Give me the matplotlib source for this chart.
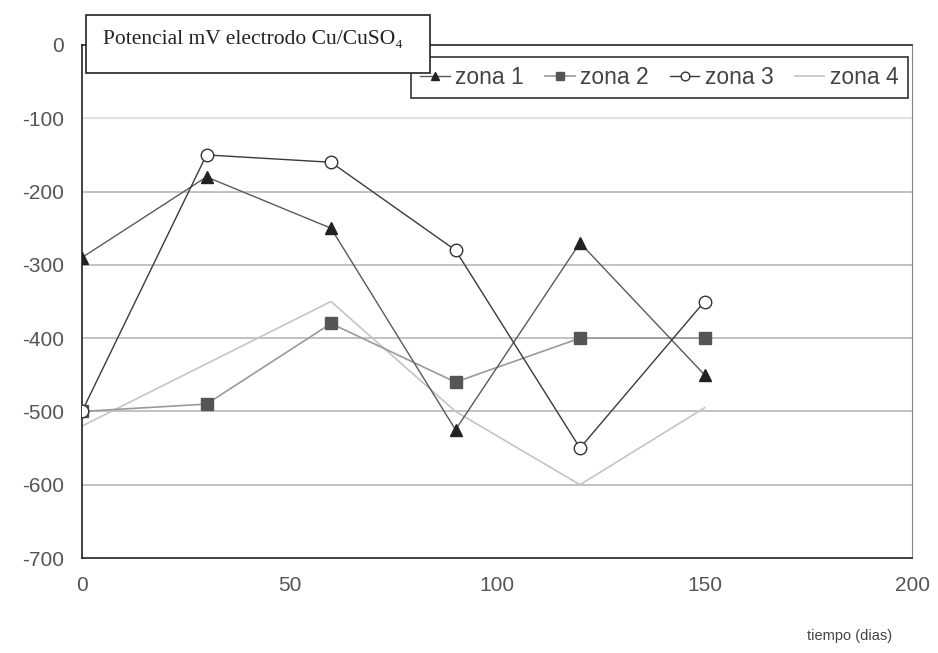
import matplotlib
matplotlib.use("Agg")
import matplotlib.pyplot as plt
from matplotlib.patches import Rectangle

dias = [0, 30, 60, 90, 120, 150]
zona1 = [-290, -180, -250, -525, -270, -450]
zona2 = [-500, -490, -380, -460, -400, -400]
zona3 = [-500, -150, -160, -280, -550, -350]
zona4 = [-520, -435, -350, -500, -600, -495]
xticks = [0, 50, 100, 150, 200]
yticks = [0, -100, -200, -300, -400, -500, -600, -700]

plt.rcParams['font.family'] = ['Liberation Sans', 'DejaVu Sans']
plt.rcParams['axes.unicode_minus'] = False

fig = plt.figure(figsize=(9.38, 6.53), dpi=100)
W, H = 938, 653
ax = fig.add_axes([82 / W, 1 - 558 / H, (912 - 82) / W, (558 - 45) / H])

for v in yticks[1:-1]:
    ax.axhline(v, color='#bdbdbd' if v != -100 else '#dedede', lw=1.3, zorder=1)

ax.plot(dias, zona4, color='#c4c4c4', lw=1.2, label='zona 4', zorder=2)
ax.plot(dias, zona2, color='#9a9a9a', lw=1.2, marker='s', ms=8,
        mfc='#555555', mec='#555555', label='zona 2', zorder=3)
ax.plot(dias, zona1, color='#5a5a5a', lw=1.0, marker='^', ms=8,
        mfc='#222222', mec='#222222', label='zona 1', zorder=4)
ax.plot(dias, zona3, color='#3a3a3a', lw=1.0, marker='o', ms=9,
        mfc='white', mec='#333333', mew=1.0, label='zona 3', zorder=5)

ax.set_xlim(0, 200)
ax.set_ylim(-700, 0)
ax.set_xticks(xticks)
ax.set_yticks(yticks)
ax.tick_params(length=0, labelsize=15, labelcolor='#555555')
ax.tick_params(axis='y', pad=13)
ax.tick_params(axis='x', pad=13)
for s in ['left', 'bottom', 'top']:
    ax.spines[s].set_color('#222222')
    ax.spines[s].set_linewidth(1.2)
ax.spines['right'].set_color('#888888')

h, l = ax.get_legend_handles_labels()
order = [l.index(n) for n in ['zona 1', 'zona 2', 'zona 3', 'zona 4']]
leg = ax.legend([h[i] for i in order], [l[i] for i in order], ncol=4,
                loc='upper right', bbox_to_anchor=(0.995, 0.977),
                borderaxespad=0,
                fontsize=16.5, frameon=True, fancybox=False, edgecolor='#333333',
                framealpha=1, handlelength=1.3, handletextpad=0.25,
                columnspacing=0.9, borderpad=0.4, markerscale=0.7,
                labelcolor='#444444')
leg.get_frame().set_linewidth(1.2)

# title box
fig.patches.append(Rectangle((86 / W, 1 - 73 / H), (430 - 86) / W, (73 - 15) / H,
                             transform=fig.transFigure, facecolor='white',
                             edgecolor='#222222', lw=1.2, zorder=10))
fig.text(103 / W, 1 - 40 / H, 'Potencial mV electrodo Cu/CuSO\u2084',
         family=['Liberation Serif', 'DejaVu Serif'], fontsize=15.5,
         va='center', ha='left', color='#222222', zorder=11)

fig.text(850 / W, 1 - 636 / H, 'tiempo (dias)', fontsize=10.5, color='#444444',
         ha='center', va='center')

fig.savefig('out.png', dpi=100)
